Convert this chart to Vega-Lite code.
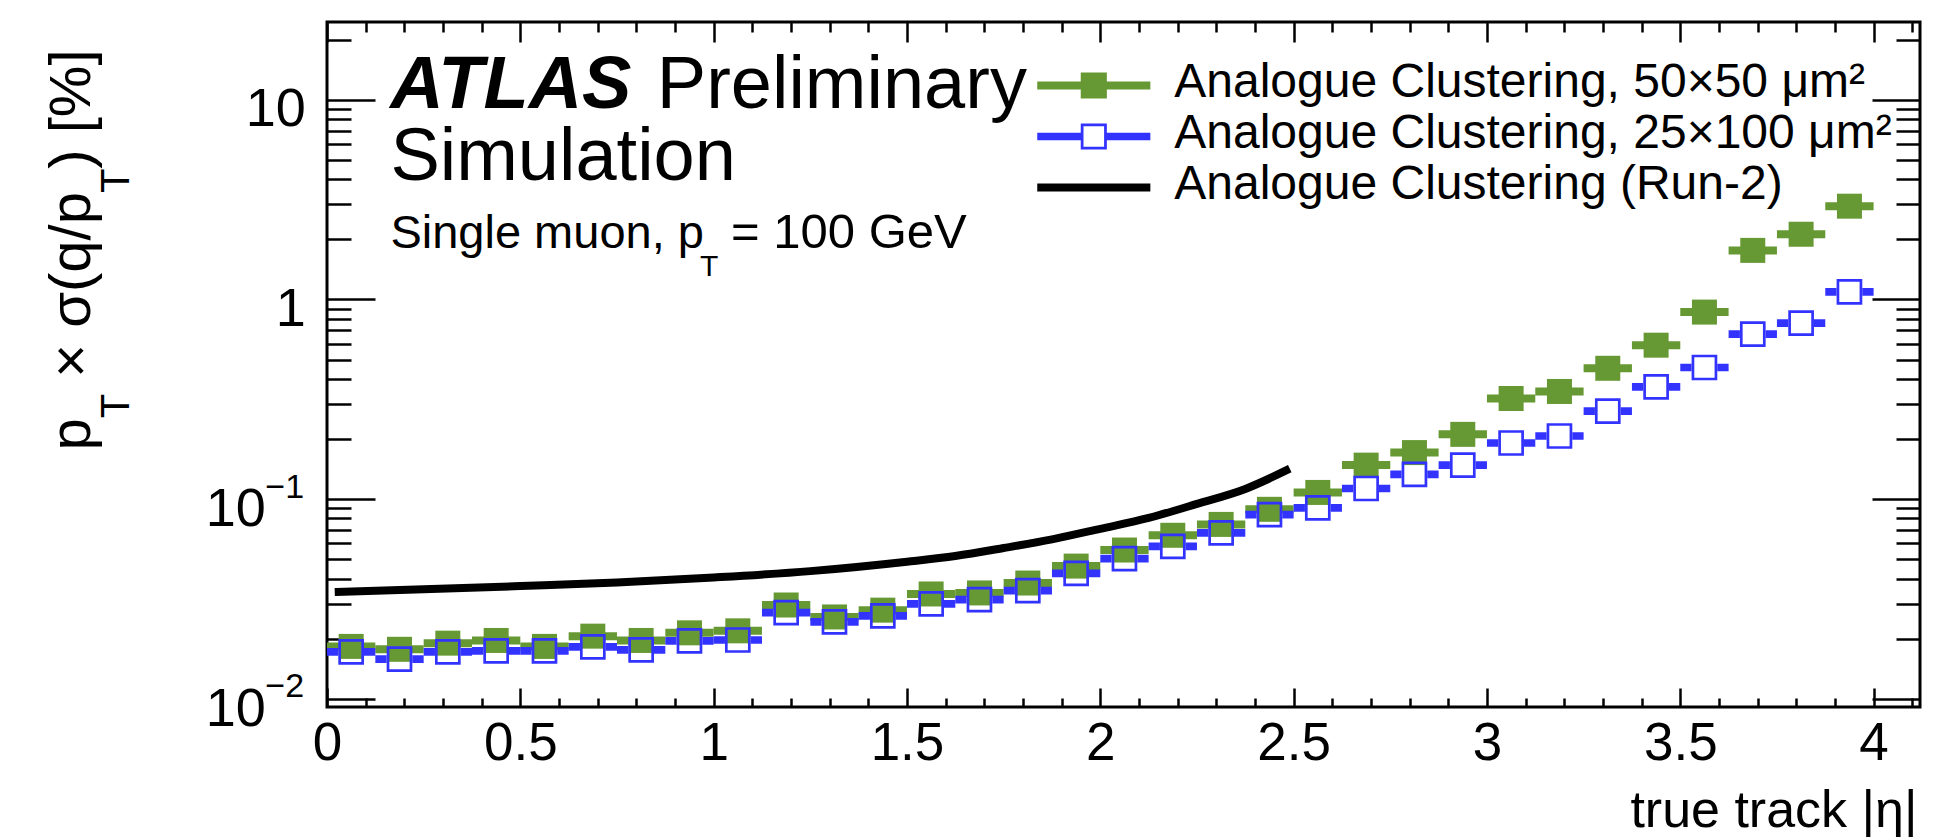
{
  "$schema": "https://vega.github.io/schema/vega-lite/v6.json",
  "width": 1593,
  "height": 685,
  "autosize": {"type": "none"},
  "padding": {"left": 327, "top": 22, "right": 22, "bottom": 130},
  "background": "white",
  "config": {
    "view": {"stroke": "black", "strokeWidth": 3},
    "axis": {
      "grid": false,
      "domain": false,
      "tickColor": "black",
      "tickWidth": 2.5,
      "labelColor": "black",
      "titleColor": "black",
      "labelFont": "Liberation Sans",
      "titleFont": "Liberation Sans",
      "titleFontWeight": "normal",
      "labelFlush": false,
      "labelOverlap": false
    },
    "text": {"font": "Liberation Sans", "color": "black", "align": "left", "baseline": "alphabetic"}
  },
  "datasets": {
    "bins": [
      {"series": "Analogue Clustering, 50×50 μm²", "eta": 0.0625, "lo": 0, "hi": 0.125, "v": 0.0183},
      {"series": "Analogue Clustering, 50×50 μm²", "eta": 0.1875, "lo": 0.125, "hi": 0.25, "v": 0.0177},
      {"series": "Analogue Clustering, 50×50 μm²", "eta": 0.3125, "lo": 0.25, "hi": 0.375, "v": 0.019},
      {"series": "Analogue Clustering, 50×50 μm²", "eta": 0.4375, "lo": 0.375, "hi": 0.5, "v": 0.0196},
      {"series": "Analogue Clustering, 50×50 μm²", "eta": 0.5625, "lo": 0.5, "hi": 0.625, "v": 0.0183},
      {"series": "Analogue Clustering, 50×50 μm²", "eta": 0.6875, "lo": 0.625, "hi": 0.75, "v": 0.0206},
      {"series": "Analogue Clustering, 50×50 μm²", "eta": 0.8125, "lo": 0.75, "hi": 0.875, "v": 0.0196},
      {"series": "Analogue Clustering, 50×50 μm²", "eta": 0.9375, "lo": 0.875, "hi": 1.0, "v": 0.0214},
      {"series": "Analogue Clustering, 50×50 μm²", "eta": 1.0625, "lo": 1.0, "hi": 1.125, "v": 0.0219},
      {"series": "Analogue Clustering, 50×50 μm²", "eta": 1.1875, "lo": 1.125, "hi": 1.25, "v": 0.0295},
      {"series": "Analogue Clustering, 50×50 μm²", "eta": 1.3125, "lo": 1.25, "hi": 1.375, "v": 0.0257},
      {"series": "Analogue Clustering, 50×50 μm²", "eta": 1.4375, "lo": 1.375, "hi": 1.5, "v": 0.0278},
      {"series": "Analogue Clustering, 50×50 μm²", "eta": 1.5625, "lo": 1.5, "hi": 1.625, "v": 0.0335},
      {"series": "Analogue Clustering, 50×50 μm²", "eta": 1.6875, "lo": 1.625, "hi": 1.75, "v": 0.0339},
      {"series": "Analogue Clustering, 50×50 μm²", "eta": 1.8125, "lo": 1.75, "hi": 1.875, "v": 0.038},
      {"series": "Analogue Clustering, 50×50 μm²", "eta": 1.9375, "lo": 1.875, "hi": 2.0, "v": 0.0462},
      {"series": "Analogue Clustering, 50×50 μm²", "eta": 2.0625, "lo": 2.0, "hi": 2.125, "v": 0.0556},
      {"series": "Analogue Clustering, 50×50 μm²", "eta": 2.1875, "lo": 2.125, "hi": 2.25, "v": 0.0659},
      {"series": "Analogue Clustering, 50×50 μm²", "eta": 2.3125, "lo": 2.25, "hi": 2.375, "v": 0.0747},
      {"series": "Analogue Clustering, 50×50 μm²", "eta": 2.4375, "lo": 2.375, "hi": 2.5, "v": 0.0889},
      {"series": "Analogue Clustering, 50×50 μm²", "eta": 2.5625, "lo": 2.5, "hi": 2.625, "v": 0.108},
      {"series": "Analogue Clustering, 50×50 μm²", "eta": 2.6875, "lo": 2.625, "hi": 2.75, "v": 0.148},
      {"series": "Analogue Clustering, 50×50 μm²", "eta": 2.8125, "lo": 2.75, "hi": 2.875, "v": 0.171},
      {"series": "Analogue Clustering, 50×50 μm²", "eta": 2.9375, "lo": 2.875, "hi": 3.0, "v": 0.211},
      {"series": "Analogue Clustering, 50×50 μm²", "eta": 3.0625, "lo": 3.0, "hi": 3.125, "v": 0.319},
      {"series": "Analogue Clustering, 50×50 μm²", "eta": 3.1875, "lo": 3.125, "hi": 3.25, "v": 0.346},
      {"series": "Analogue Clustering, 50×50 μm²", "eta": 3.3125, "lo": 3.25, "hi": 3.375, "v": 0.452},
      {"series": "Analogue Clustering, 50×50 μm²", "eta": 3.4375, "lo": 3.375, "hi": 3.5, "v": 0.59},
      {"series": "Analogue Clustering, 50×50 μm²", "eta": 3.5625, "lo": 3.5, "hi": 3.625, "v": 0.864},
      {"series": "Analogue Clustering, 50×50 μm²", "eta": 3.6875, "lo": 3.625, "hi": 3.75, "v": 1.76},
      {"series": "Analogue Clustering, 50×50 μm²", "eta": 3.8125, "lo": 3.75, "hi": 3.875, "v": 2.12},
      {"series": "Analogue Clustering, 50×50 μm²", "eta": 3.9375, "lo": 3.875, "hi": 4.0, "v": 2.93},
      {"series": "Analogue Clustering, 25×100 μm²", "eta": 0.0625, "lo": 0, "hi": 0.125, "v": 0.0172},
      {"series": "Analogue Clustering, 25×100 μm²", "eta": 0.1875, "lo": 0.125, "hi": 0.25, "v": 0.0158},
      {"series": "Analogue Clustering, 25×100 μm²", "eta": 0.3125, "lo": 0.25, "hi": 0.375, "v": 0.0172},
      {"series": "Analogue Clustering, 25×100 μm²", "eta": 0.4375, "lo": 0.375, "hi": 0.5, "v": 0.0174},
      {"series": "Analogue Clustering, 25×100 μm²", "eta": 0.5625, "lo": 0.5, "hi": 0.625, "v": 0.0174},
      {"series": "Analogue Clustering, 25×100 μm²", "eta": 0.6875, "lo": 0.625, "hi": 0.75, "v": 0.0182},
      {"series": "Analogue Clustering, 25×100 μm²", "eta": 0.8125, "lo": 0.75, "hi": 0.875, "v": 0.0176},
      {"series": "Analogue Clustering, 25×100 μm²", "eta": 0.9375, "lo": 0.875, "hi": 1.0, "v": 0.0195},
      {"series": "Analogue Clustering, 25×100 μm²", "eta": 1.0625, "lo": 1.0, "hi": 1.125, "v": 0.0197},
      {"series": "Analogue Clustering, 25×100 μm²", "eta": 1.1875, "lo": 1.125, "hi": 1.25, "v": 0.027},
      {"series": "Analogue Clustering, 25×100 μm²", "eta": 1.3125, "lo": 1.25, "hi": 1.375, "v": 0.0243},
      {"series": "Analogue Clustering, 25×100 μm²", "eta": 1.4375, "lo": 1.375, "hi": 1.5, "v": 0.026},
      {"series": "Analogue Clustering, 25×100 μm²", "eta": 1.5625, "lo": 1.5, "hi": 1.625, "v": 0.0299},
      {"series": "Analogue Clustering, 25×100 μm²", "eta": 1.6875, "lo": 1.625, "hi": 1.75, "v": 0.0314},
      {"series": "Analogue Clustering, 25×100 μm²", "eta": 1.8125, "lo": 1.75, "hi": 1.875, "v": 0.0348},
      {"series": "Analogue Clustering, 25×100 μm²", "eta": 1.9375, "lo": 1.875, "hi": 2.0, "v": 0.0425},
      {"series": "Analogue Clustering, 25×100 μm²", "eta": 2.0625, "lo": 2.0, "hi": 2.125, "v": 0.0504},
      {"series": "Analogue Clustering, 25×100 μm²", "eta": 2.1875, "lo": 2.125, "hi": 2.25, "v": 0.058},
      {"series": "Analogue Clustering, 25×100 μm²", "eta": 2.3125, "lo": 2.25, "hi": 2.375, "v": 0.0678},
      {"series": "Analogue Clustering, 25×100 μm²", "eta": 2.4375, "lo": 2.375, "hi": 2.5, "v": 0.0837},
      {"series": "Analogue Clustering, 25×100 μm²", "eta": 2.5625, "lo": 2.5, "hi": 2.625, "v": 0.0905},
      {"series": "Analogue Clustering, 25×100 μm²", "eta": 2.6875, "lo": 2.625, "hi": 2.75, "v": 0.113},
      {"series": "Analogue Clustering, 25×100 μm²", "eta": 2.8125, "lo": 2.75, "hi": 2.875, "v": 0.133},
      {"series": "Analogue Clustering, 25×100 μm²", "eta": 2.9375, "lo": 2.875, "hi": 3.0, "v": 0.148},
      {"series": "Analogue Clustering, 25×100 μm²", "eta": 3.0625, "lo": 3.0, "hi": 3.125, "v": 0.191},
      {"series": "Analogue Clustering, 25×100 μm²", "eta": 3.1875, "lo": 3.125, "hi": 3.25, "v": 0.207},
      {"series": "Analogue Clustering, 25×100 μm²", "eta": 3.3125, "lo": 3.25, "hi": 3.375, "v": 0.276},
      {"series": "Analogue Clustering, 25×100 μm²", "eta": 3.4375, "lo": 3.375, "hi": 3.5, "v": 0.365},
      {"series": "Analogue Clustering, 25×100 μm²", "eta": 3.5625, "lo": 3.5, "hi": 3.625, "v": 0.456},
      {"series": "Analogue Clustering, 25×100 μm²", "eta": 3.6875, "lo": 3.625, "hi": 3.75, "v": 0.67},
      {"series": "Analogue Clustering, 25×100 μm²", "eta": 3.8125, "lo": 3.75, "hi": 3.875, "v": 0.761},
      {"series": "Analogue Clustering, 25×100 μm²", "eta": 3.9375, "lo": 3.875, "hi": 4.0, "v": 1.09}
    ],
    "run2": [
      {"series": "Analogue Clustering (Run-2)", "eta": 0.02, "v": 0.0343},
      {"series": "Analogue Clustering (Run-2)", "eta": 0.25, "v": 0.0354},
      {"series": "Analogue Clustering (Run-2)", "eta": 0.5, "v": 0.0367},
      {"series": "Analogue Clustering (Run-2)", "eta": 0.75, "v": 0.0382},
      {"series": "Analogue Clustering (Run-2)", "eta": 1.0, "v": 0.0405},
      {"series": "Analogue Clustering (Run-2)", "eta": 1.25, "v": 0.0436},
      {"series": "Analogue Clustering (Run-2)", "eta": 1.5, "v": 0.0486},
      {"series": "Analogue Clustering (Run-2)", "eta": 1.625, "v": 0.0519},
      {"series": "Analogue Clustering (Run-2)", "eta": 1.75, "v": 0.0569},
      {"series": "Analogue Clustering (Run-2)", "eta": 1.875, "v": 0.0629},
      {"series": "Analogue Clustering (Run-2)", "eta": 2.0, "v": 0.071},
      {"series": "Analogue Clustering (Run-2)", "eta": 2.125, "v": 0.0805},
      {"series": "Analogue Clustering (Run-2)", "eta": 2.25, "v": 0.0947},
      {"series": "Analogue Clustering (Run-2)", "eta": 2.375, "v": 0.1125},
      {"series": "Analogue Clustering (Run-2)", "eta": 2.49, "v": 0.142}
    ]
  },
  "resolve": {"axis": {"x": "independent", "y": "independent"}},
  "layer": [
    {
      "data": {"name": "bins"},
      "transform": [{"filter": "datum.series === 'Analogue Clustering, 50×50 μm²'"}],
      "mark": {"type": "rule", "strokeWidth": 8, "strokeCap": "butt"},
      "encoding": {
        "x": {
          "field": "lo", "type": "quantitative",
          "scale": {"type": "linear", "domain": [0, 4.12], "nice": false, "zero": false},
          "axis": {
            "orient": "bottom", "values": [0, 0.5, 1, 1.5, 2, 2.5, 3, 3.5, 4], "format": "~g",
            "tickSize": -19, "labelFontSize": 53, "labelBaseline": "alphabetic", "labelAlign": "center", "labelPadding": 71.5,
            "title": "true track |η|", "titleFontSize": 52, "titleAnchor": "end", "titleAlign": "right",
            "titleBaseline": "alphabetic", "titleX": 1590, "titleY": 119.5
          }
        },
        "x2": {"field": "hi"},
        "y": {
          "field": "v", "type": "quantitative",
          "scale": {"type": "log", "domain": [0.0091, 24.5], "nice": false},
          "axis": {
            "orient": "left", "values": [0.01, 0.1, 1, 10], "tickSize": -48,
            "labelExpr": "datum.value > 5 ? '10' : datum.value > 0.5 ? '1' : ''",
            "labelFontSize": 54, "labelAlign": "right", "labelBaseline": "alphabetic", "labelPadding": 69.7, "labelOffset": 26,
            "title": "p", "titleFontSize": 58, "titleAngle": 270, "titleAlign": "left", "titleBaseline": "alphabetic",
            "titleX": -238, "titleY": 428
          }
        },
        "color": {
          "field": "series", "type": "nominal",
          "scale": {
            "domain": ["Analogue Clustering, 50×50 μm²", "Analogue Clustering, 25×100 μm²", "Analogue Clustering (Run-2)"],
            "range": ["#669933", "#3333ff", "#000000"]
          },
          "legend": {
            "orient": "none", "legendX": 737.8, "legendY": 34.5, "direction": "vertical", "title": null,
            "symbolSize": 3364, "symbolStrokeWidth": 0, "labelFontSize": 48, "labelFont": "Liberation Sans",
            "labelColor": "black", "labelOffset": 51.5, "labelLimit": 0, "labelBaseline": "alphabetic",
            "rowPadding": 0, "padding": 0, "offset": 0,
            "encode": {
              "symbols": {
                "update": {
                  "shape": {"signal": "indexof(datum.value, '50×50') >= 0 ? 'M-1.95,-0.14H1.95V0.14H-1.95Z M-0.45,-0.45H0.45V0.45H-0.45Z' : indexof(datum.value, '25×100') >= 0 ? 'M-1.95,-0.13H-0.45V0.13H-1.95Z M0.45,-0.13H1.95V0.13H0.45Z M-0.45,-0.45H0.45V0.45H-0.45Z M-0.355,-0.355V0.355H0.355V-0.355Z' : 'M-1.95,-0.14H1.95V0.14H-1.95Z'"},
                  "fill": {"scale": "color", "field": "value"},
                  "stroke": {"value": "transparent"},
                  "strokeWidth": {"value": 0},
                  "opacity": {"value": 1}
                }
              },
              "labels": {"update": {"dy": {"value": 11.5}}}
            }
          }
        }
      }
    },
    {
      "data": {"name": "bins"},
      "transform": [{"filter": "datum.series === 'Analogue Clustering, 50×50 μm²'"}],
      "mark": {"type": "point", "shape": "square", "filled": true, "size": 625, "opacity": 1, "strokeWidth": 0},
      "encoding": {
        "x": {
          "field": "eta", "type": "quantitative",
          "scale": {"type": "linear", "domain": [0, 4.12], "nice": false, "zero": false},
          "axis": {
            "orient": "bottom", "tickSize": -9, "labels": false, "title": null,
            "values": [0.1, 0.2, 0.3, 0.4, 0.6, 0.7, 0.8, 0.9, 1.1, 1.2, 1.3, 1.4, 1.6, 1.7, 1.8, 1.9, 2.1, 2.2, 2.3, 2.4, 2.6, 2.7, 2.8, 2.9, 3.1, 3.2, 3.3, 3.4, 3.6, 3.7, 3.8, 3.9, 4.1]
          }
        },
        "y": {
          "field": "v", "type": "quantitative",
          "scale": {"type": "log", "domain": [0.0091, 24.5], "nice": false},
          "axis": {
            "orient": "left", "tickSize": -24, "labels": false,
            "values": [0.02, 0.03, 0.04, 0.05, 0.06, 0.07, 0.08, 0.09, 0.2, 0.3, 0.4, 0.5, 0.6, 0.7, 0.8, 0.9, 2, 3, 4, 5, 6, 7, 8, 9, 20],
            "title": "T", "titleFontSize": 40, "titleAngle": 270, "titleAlign": "left", "titleBaseline": "alphabetic",
            "titleX": -199, "titleY": 395.8
          }
        },
        "color": {"field": "series", "type": "nominal"}
      }
    },
    {
      "data": {"name": "bins"},
      "transform": [{"filter": "datum.series === 'Analogue Clustering, 25×100 μm²'"}],
      "mark": {"type": "rule", "strokeWidth": 7.7, "strokeCap": "butt", "strokeDash": [11.3, 25.7, 60]},
      "encoding": {
        "x": {
          "field": "lo", "type": "quantitative",
          "scale": {"type": "linear", "domain": [0, 4.12], "nice": false, "zero": false},
          "axis": {"orient": "top", "values": [0, 0.5, 1, 1.5, 2, 2.5, 3, 3.5, 4], "tickSize": -20, "labels": false, "title": null}
        },
        "x2": {"field": "hi"},
        "y": {
          "field": "v", "type": "quantitative",
          "scale": {"type": "log", "domain": [0.0091, 24.5], "nice": false},
          "axis": {"orient": "right", "values": [0.01, 0.1, 1, 10], "tickSize": -48, "labels": false, "title": null}
        },
        "color": {"field": "series", "type": "nominal"}
      }
    },
    {
      "data": {"name": "bins"},
      "transform": [{"filter": "datum.series === 'Analogue Clustering, 25×100 μm²'"}],
      "mark": {"type": "point", "shape": "square", "filled": false, "size": 529, "strokeWidth": 2.7, "opacity": 1},
      "encoding": {
        "x": {
          "field": "eta", "type": "quantitative",
          "scale": {"type": "linear", "domain": [0, 4.12], "nice": false, "zero": false},
          "axis": {
            "orient": "top", "tickSize": -10, "labels": false, "title": null,
            "values": [0.1, 0.2, 0.3, 0.4, 0.6, 0.7, 0.8, 0.9, 1.1, 1.2, 1.3, 1.4, 1.6, 1.7, 1.8, 1.9, 2.1, 2.2, 2.3, 2.4, 2.6, 2.7, 2.8, 2.9, 3.1, 3.2, 3.3, 3.4, 3.6, 3.7, 3.8, 3.9, 4.1]
          }
        },
        "y": {
          "field": "v", "type": "quantitative",
          "scale": {"type": "log", "domain": [0.0091, 24.5], "nice": false},
          "axis": {
            "orient": "right", "tickSize": -24, "labels": false, "title": null,
            "values": [0.02, 0.03, 0.04, 0.05, 0.06, 0.07, 0.08, 0.09, 0.2, 0.3, 0.4, 0.5, 0.6, 0.7, 0.8, 0.9, 2, 3, 4, 5, 6, 7, 8, 9, 20]
          }
        },
        "color": {"field": "series", "type": "nominal"}
      }
    },
    {
      "data": {"name": "run2"},
      "mark": {"type": "line", "strokeWidth": 8, "interpolate": "monotone", "strokeCap": "butt"},
      "encoding": {
        "x": {
          "field": "eta", "type": "quantitative",
          "scale": {"type": "linear", "domain": [0, 4.12], "nice": false, "zero": false},
          "axis": null
        },
        "y": {
          "field": "v", "type": "quantitative",
          "scale": {"type": "log", "domain": [0.0091, 24.5], "nice": false},
          "axis": {
            "orient": "left", "values": [0.01, 0.1], "ticks": false, "labelExpr": "'10'",
            "labelFontSize": 54, "labelAlign": "right", "labelBaseline": "alphabetic", "labelPadding": 61.7, "labelOffset": 26.7,
            "title": "× σ(q/p", "titleFontSize": 58, "titleAngle": 270, "titleAlign": "left", "titleBaseline": "alphabetic",
            "titleX": -238, "titleY": 355.3
          }
        },
        "color": {"field": "series", "type": "nominal"}
      }
    },
    {
      "data": {"values": [{}]},
      "mark": {"type": "text", "text": "ATLAS", "fontSize": 74, "fontWeight": "bold", "fontStyle": "italic"},
      "encoding": {
        "x": {"datum": 0.1637, "type": "quantitative", "scale": {"type": "linear", "domain": [0, 4.12], "nice": false, "zero": false}, "axis": null},
        "y": {
          "datum": 9.09, "type": "quantitative",
          "scale": {"type": "log", "domain": [0.0091, 24.5], "nice": false},
          "axis": {
            "orient": "left", "values": [0.01, 0.1], "ticks": false,
            "labelExpr": "datum.value < 0.05 ? '−2' : '−1'",
            "labelFontSize": 34, "labelAlign": "right", "labelBaseline": "alphabetic", "labelPadding": 23.4, "labelOffset": -2,
            "title": "T", "titleFontSize": 40, "titleAngle": 270, "titleAlign": "left", "titleBaseline": "alphabetic",
            "titleX": -199, "titleY": 170.6
          }
        }
      }
    },
    {
      "data": {"values": [{}]},
      "mark": {"type": "text", "text": "Preliminary", "fontSize": 74},
      "encoding": {
        "x": {"datum": 0.853, "type": "quantitative", "scale": {"type": "linear", "domain": [0, 4.12], "nice": false, "zero": false}, "axis": null},
        "y": {
          "datum": 9.09, "type": "quantitative",
          "scale": {"type": "log", "domain": [0.0091, 24.5], "nice": false},
          "axis": {
            "orient": "left", "ticks": false, "labels": false, "values": [],
            "title": ") [%]", "titleFontSize": 58, "titleAngle": 270, "titleAlign": "left", "titleBaseline": "alphabetic",
            "titleX": -238, "titleY": 146.2
          }
        }
      }
    },
    {
      "data": {"values": [{}]},
      "mark": {"type": "text", "text": "Simulation", "fontSize": 74},
      "encoding": {
        "x": {"datum": 0.164, "type": "quantitative", "scale": {"type": "linear", "domain": [0, 4.12], "nice": false, "zero": false}, "axis": null},
        "y": {"datum": 3.977, "type": "quantitative", "scale": {"type": "log", "domain": [0.0091, 24.5], "nice": false}, "axis": null}
      }
    },
    {
      "data": {"values": [{}]},
      "mark": {"type": "text", "text": "Single muon, p", "fontSize": 47},
      "encoding": {
        "x": {"datum": 0.164, "type": "quantitative", "scale": {"type": "linear", "domain": [0, 4.12], "nice": false, "zero": false}, "axis": null},
        "y": {"datum": 1.81, "type": "quantitative", "scale": {"type": "log", "domain": [0.0091, 24.5], "nice": false}, "axis": null}
      }
    },
    {
      "data": {"values": [{}]},
      "mark": {"type": "text", "text": "T", "fontSize": 30},
      "encoding": {
        "x": {"datum": 0.965, "type": "quantitative", "scale": {"type": "linear", "domain": [0, 4.12], "nice": false, "zero": false}, "axis": null},
        "y": {"datum": 1.305, "type": "quantitative", "scale": {"type": "log", "domain": [0.0091, 24.5], "nice": false}, "axis": null}
      }
    },
    {
      "data": {"values": [{}]},
      "mark": {"type": "text", "text": "= 100 GeV", "fontSize": 49},
      "encoding": {
        "x": {"datum": 1.045, "type": "quantitative", "scale": {"type": "linear", "domain": [0, 4.12], "nice": false, "zero": false}, "axis": null},
        "y": {"datum": 1.81, "type": "quantitative", "scale": {"type": "log", "domain": [0.0091, 24.5], "nice": false}, "axis": null}
      }
    }
  ]
}
